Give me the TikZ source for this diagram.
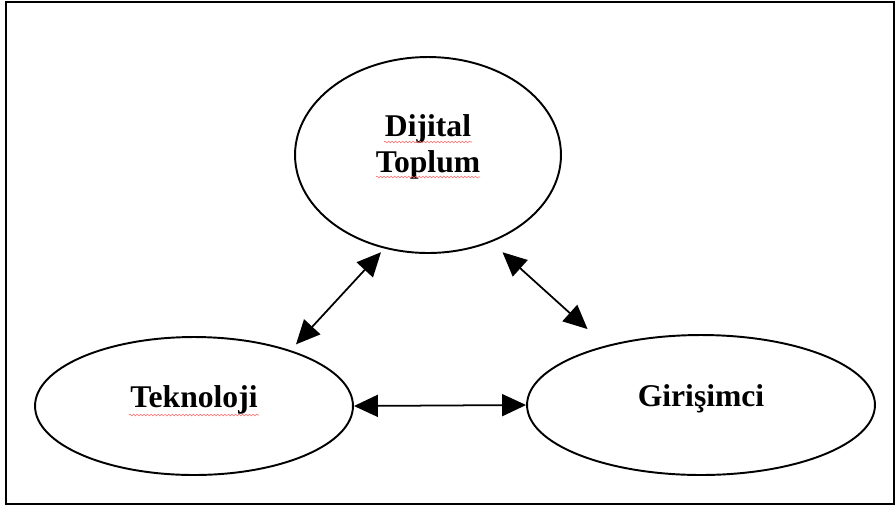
\documentclass[tikz,border=0pt]{standalone}
\usepackage{fontspec}
\setmainfont{Liberation Serif}
\usetikzlibrary{shapes.geometric,arrows.meta,calc,decorations.pathmorphing}

\begin{document}
\begin{tikzpicture}[
  x=0.02cm,y=-0.02cm,
  font=\bfseries\fontsize{18}{20}\selectfont,>={Triangle[length=4.8mm,width=4.4mm]},
  el/.style={draw,ellipse,inner sep=0pt,line width=1.1pt},
  lnk/.style={<->,line width=1pt},
  squig/.style={red!60,line width=0.3pt,decorate,decoration={snake,amplitude=0.5pt,segment length=2pt}}
]
\useasboundingbox (0,0) rectangle (895,508);
\draw[line width=1.5pt] (6,2) rectangle (894,504);
\node[el,minimum width=5.32cm,minimum height=3.92cm,align=center,text depth=13pt] (dij) at (428,155) {Dijital\\Toplum};
\node[el,minimum width=6.36cm,minimum height=2.76cm,text depth=10.7pt] (tek) at (194,406) {Teknoloji};
\node[el,minimum width=6.96cm,minimum height=2.8cm,text depth=10.7pt] (gir) at (701,405) {Girişimci};
\draw[lnk,shorten <=0.16cm,shorten >=0.1cm] (tek.30) -- (dij.245);
\draw[lnk,shorten <=0.3cm,shorten >=0.49cm] (dij.-54) -- (gir.148);
\draw[lnk] (tek.east) -- (gir.west);
\draw[squig] ($(dij.center)+(-44,-13)$) -- ++(88,0);
\draw[squig] ($(dij.center)+(-52,22)$) -- ++(104,0);
\draw[squig] ($(tek.center)+(-65,9)$) -- ++(130,0);
\end{tikzpicture}
\end{document}
